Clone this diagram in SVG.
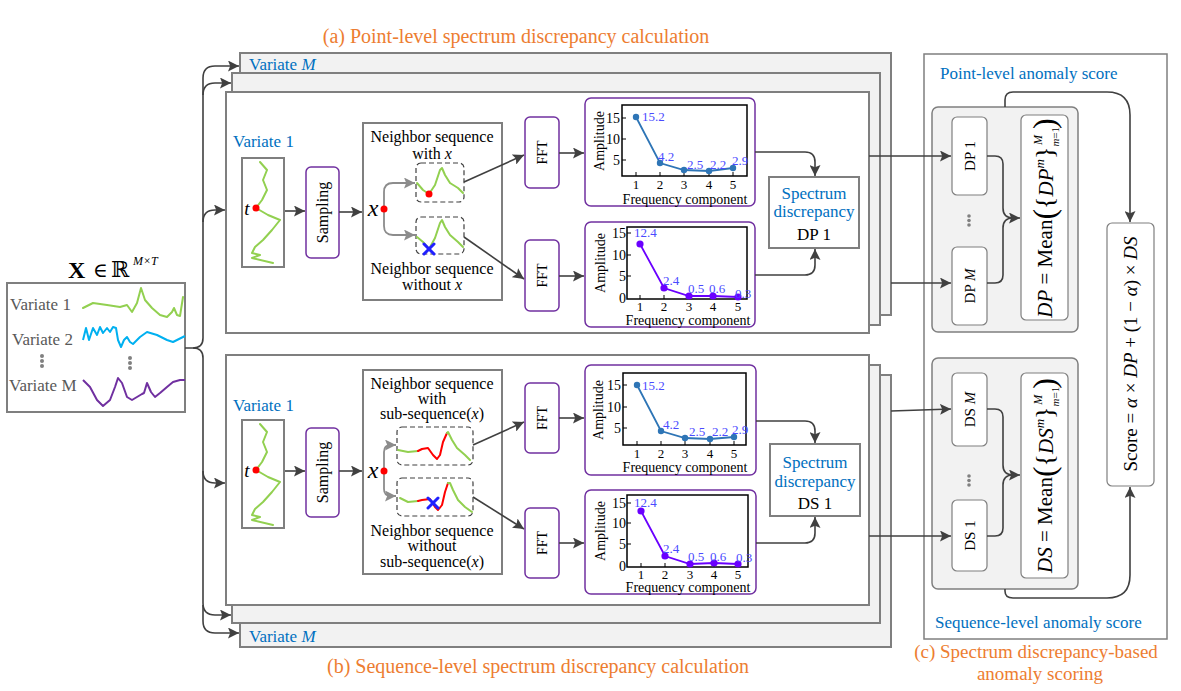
<svg xmlns="http://www.w3.org/2000/svg" width="1181" height="691" viewBox="0 0 1181 691" font-family="'Liberation Serif','DejaVu Serif',serif">
<defs>
<style>
text{font-family:"Liberation Serif","DejaVu Serif",serif;fill:#000}
.panel{fill:#fff;stroke:#7f7f7f;stroke-width:2}
.panelb{fill:#f2f2f2;stroke:#7f7f7f;stroke-width:2}
.pbox{fill:#fff;stroke:#7030a0;stroke-width:1.5}
.gbox{fill:#fff;stroke:#7f7f7f;stroke-width:2}
.conn{fill:none;stroke:#404040;stroke-width:1.6}
.gconn{fill:none;stroke:#8c8c8c;stroke-width:1.8}
.dash{fill:#fff;stroke:#404040;stroke-width:1.2;stroke-dasharray:5 3}
.blue{fill:#0070c0}
.orange{fill:#ed7d31}
.gray{fill:#595959}
.nb{font-size:16px}
.green{fill:none;stroke:#92d050;stroke-width:2;stroke-linejoin:round;stroke-linecap:round}
.red{fill:none;stroke:#ff0000;stroke-width:2;stroke-linejoin:round;stroke-linecap:round}
.plot{fill:none;stroke:#000;stroke-width:1.5}
.tick{stroke:#000;stroke-width:1}
.lb{fill:#4b4bff;font-size:13px}
.l1{fill:none;stroke:#2e75b6;stroke-width:1.8}
.l2{fill:none;stroke:#6a00ff;stroke-width:1.8}
.ax{font-size:14px}
.tk{font-size:13px}
.cross{stroke:#2020ff;stroke-width:3;stroke-linecap:round}
</style>
<marker id="ah" viewBox="0 0 10 10" refX="10" refY="5" markerWidth="11" markerHeight="11" markerUnits="userSpaceOnUse" orient="auto"><path d="M0,0 L10,5 L0,10 L2,5 z" fill="#404040"/></marker>
<marker id="ahg" viewBox="0 0 10 10" refX="10" refY="5" markerWidth="11" markerHeight="11" markerUnits="userSpaceOnUse" orient="auto"><path d="M0,0 L10,5 L0,10 L2,5 z" fill="#8c8c8c"/></marker>
</defs>
<rect width="1181" height="691" fill="#fff"/>

<!-- titles -->
<text class="orange" x="516" y="43" font-size="20" text-anchor="middle">(a) Point-level spectrum discrepancy calculation</text>
<text class="orange" x="538" y="673" font-size="20" text-anchor="middle">(b) Sequence-level spectrum discrepancy calculation</text>
<text class="orange" x="1036" y="658" font-size="19" text-anchor="middle">(c) Spectrum discrepancy-based</text>
<text class="orange" x="1040" y="680" font-size="19" text-anchor="middle">anomaly scoring</text>

<!-- input -->
<g id="input">
<text x="68" y="278" font-size="24" font-weight="bold">X</text>
<text x="93" y="277" font-size="20">∈</text>
<text x="111" y="277" font-size="22">ℝ</text>
<text x="133" y="265" font-size="12" font-style="italic">M×T</text>
<rect x="7" y="283" width="178" height="129" fill="#fff" stroke="#7f7f7f" stroke-width="2"/>
<text class="gray" x="10" y="310" font-size="17">Variate 1</text>
<text class="gray" x="12" y="345" font-size="17">Variate 2</text>
<text class="gray" x="9" y="391" font-size="17">Variate M</text>
<g fill="#808080"><circle cx="42" cy="356" r="2"/><circle cx="42" cy="361" r="2"/><circle cx="42" cy="366" r="2"/><circle cx="130" cy="358" r="2"/><circle cx="130" cy="363" r="2"/><circle cx="130" cy="368" r="2"/></g>
<polyline class="green" points="83,308 93,303 107,305 120,307 127,305 132,312 137,303 141,288 145,300 152,308 160,315 167,317 172,312 174,308 177,315 180,316 183,297"/>
<polyline fill="none" stroke="#00b0f0" stroke-width="2" stroke-linejoin="round" points="83,340 86,328 89,340 93,328 97,335 100,327 103,333 107,328 110,332 113,327 116,328 118,340 121,347 124,340 127,337 130,342 133,344 140,337 147,332 157,335 167,340 173,342 185,336"/>
<polyline fill="none" stroke="#7030a0" stroke-width="2" stroke-linejoin="round" points="83,380 90,387 97,400 103,406 110,400 115,387 118,378 122,383 127,397 132,400 137,397 142,394 144,393 147,383 151,392 155,397 160,393 167,387 173,382 180,380 185,380"/>
</g>

<!-- panel a -->
<g id="panel-a">
<rect class="panelb" x="240" y="53" width="651" height="262"/>
<rect class="panelb" x="232" y="73" width="648" height="252"/>
<rect class="panel" x="226" y="92" width="643" height="241"/>
<text class="blue" x="249" y="70" font-size="17">Variate <tspan font-style="italic">M</tspan></text>
<text class="blue" x="233" y="147" font-size="17">Variate 1</text>
</g>
<g id="series-a">
<rect class="gbox" x="242" y="158" width="42" height="109"/>
<polyline class="green" points="260,162 267,170 263,180 267,190 262,200 256,208 268,215 280,220 272,230 263,240 255,247 252,253 260,255 252,258 273,263"/>
<circle cx="256" cy="208" r="3.5" fill="#ff0000"/>
<text x="247" y="215" font-size="19" font-style="italic" text-anchor="middle">t</text>
</g>
<g id="sampling-a">
<rect class="pbox" x="306" y="167" width="33" height="91" rx="5"/>
<text transform="translate(328,212.5) rotate(-90)" font-size="16" text-anchor="middle">Sampling</text>
</g>
<g id="neighbor-a">
<rect class="gbox" x="363" y="123" width="139" height="177"/>
<text class="nb" x="432" y="142" text-anchor="middle">Neighbor sequence</text>
<text class="nb" x="432" y="159" text-anchor="middle">with <tspan font-style="italic">x</tspan></text>
<text class="nb" x="432" y="274" text-anchor="middle">Neighbor sequence</text>
<text class="nb" x="432" y="290" text-anchor="middle">without <tspan font-style="italic">x</tspan></text>
<text x="373" y="216" font-size="24" font-style="italic" text-anchor="middle">x</text>
<rect class="dash" x="416" y="163" width="48" height="39" rx="5"/>
<rect class="dash" x="416" y="217" width="48" height="37" rx="5"/>
<polyline class="green" points="417,183 423,190 429,194 435,185 440,170 442,168 445,175 450,183 458,188 463,193"/>
<circle cx="429" cy="194" r="3.5" fill="#ff0000"/>
<polyline class="green" points="417,237 423,242 429,249 435,238 440,223 442,220 445,227 450,235 458,242 463,247"/>
<line class="cross" x1="424" y1="244" x2="434" y2="254"/><line class="cross" x1="424" y1="254" x2="434" y2="244"/>
<path class="gconn" d="M384,209 V192 Q384,183 393,183 H415" marker-end="url(#ahg)"/>
<path class="gconn" d="M384,209 V226 Q384,235 393,235 H415" marker-end="url(#ahg)"/>
<circle cx="384" cy="209" r="3.5" fill="#ff0000"/>
</g>
<g id="fft-a1"><rect class="pbox" x="525" y="117" width="34" height="71" rx="5"/><text transform="translate(547,152.5) rotate(-90)" font-size="14" text-anchor="middle">FFT</text></g>
<g id="fft-a2"><rect class="pbox" x="525" y="240" width="34" height="71" rx="5"/><text transform="translate(547,275.5) rotate(-90)" font-size="14" text-anchor="middle">FFT</text></g>

<g id="chart-a1">
<rect class="pbox" x="585" y="98" width="170" height="108" rx="6"/>
<rect class="plot" x="622" y="105" width="125" height="71"/>
<path class="tick" d="M622,118h4M622,139h4M622,160h4M636,176v-4M660,176v-4M684,176v-4M709,176v-4M733,176v-4"/>
<g class="ax" text-anchor="end"><text x="620" y="123">15</text><text x="620" y="144">10</text><text x="620" y="165">5</text></g>
<g class="tk" text-anchor="middle"><text x="636" y="189">1</text><text x="660" y="189">2</text><text x="684" y="189">3</text><text x="709" y="189">4</text><text x="733" y="189">5</text></g>
<g class="ax" text-anchor="middle"><text x="685" y="204">Frequency component</text>
<text transform="translate(604,141) rotate(-90)">Amplitude</text></g>
<polyline class="l1" points="636,117 660,163 684,170 709,171 733,168"/>
<g fill="#2e75b6"><circle cx="636" cy="117" r="3.2"/><circle cx="660" cy="163" r="3.2"/><circle cx="684" cy="170" r="3.2"/><circle cx="709" cy="171" r="3.2"/><circle cx="733" cy="168" r="3.2"/></g>
<text class="lb" x="642" y="121">15.2</text><text class="lb" x="658" y="161">4.2</text><text class="lb" x="687" y="169">2.5</text><text class="lb" x="710" y="169">2.2</text><text class="lb" x="732" y="165">2.9</text>
</g>

<g id="chart-a2">
<rect class="pbox" x="585" y="222" width="170" height="105" rx="6"/>
<rect class="plot" x="627" y="227" width="120" height="72"/>
<path class="tick" d="M627,233h4M627,255h4M627,276h4M640,299v-4M664,299v-4M689,299v-4M713,299v-4M738,299v-4"/>
<g class="ax" text-anchor="end"><text x="626" y="238">15</text><text x="626" y="260">10</text><text x="626" y="281">5</text><text x="626" y="303">0</text></g>
<g class="tk" text-anchor="middle"><text x="640" y="311">1</text><text x="664" y="311">2</text><text x="689" y="311">3</text><text x="713" y="311">4</text><text x="738" y="311">5</text></g>
<g class="ax" text-anchor="middle"><text x="688" y="325">Frequency component</text>
<text transform="translate(605,263) rotate(-90)">Amplitude</text></g>
<polyline class="l2" points="640,244 664,288 689,296 713,296 738,297"/>
<g fill="#6a00ff"><circle cx="640" cy="244" r="3.6"/><circle cx="664" cy="288" r="3.6"/><circle cx="689" cy="296" r="3.6"/><circle cx="713" cy="296" r="3.6"/><circle cx="738" cy="297" r="3.6"/></g>
<text class="lb" x="634" y="237">12.4</text><text class="lb" x="663" y="285">2.4</text><text class="lb" x="688" y="293">0.5</text><text class="lb" x="709" y="293">0.6</text><text class="lb" x="735" y="298" font-size="12">0.3</text>
</g>

<g id="spectrum-dp1">
<rect class="gbox" x="769" y="177" width="90" height="71"/>
<text class="blue" x="814" y="199" font-size="17" text-anchor="middle">Spectrum</text>
<text class="blue" x="814" y="217" font-size="17" text-anchor="middle">discrepancy</text>
<text x="814" y="240" font-size="17" text-anchor="middle">DP 1</text>
</g>

<!-- panel b -->
<g id="panel-b">
<rect class="panelb" x="240" y="375" width="651" height="272"/>
<rect class="panelb" x="232" y="365" width="648" height="258"/>
<rect class="panel" x="226" y="355" width="643" height="250"/>
<text class="blue" x="249" y="642" font-size="17">Variate <tspan font-style="italic">M</tspan></text>
<text class="blue" x="233" y="411" font-size="17">Variate 1</text>
</g>
<g id="series-b">
<rect class="gbox" x="242" y="420" width="42" height="108"/>
<polyline class="green" points="260,424 267,432 263,442 267,452 262,462 256,470 268,477 280,482 272,492 263,502 255,509 252,515 260,517 252,520 273,525"/>
<circle cx="256" cy="470" r="3.5" fill="#ff0000"/>
<text x="247" y="477" font-size="19" font-style="italic" text-anchor="middle">t</text>
</g>
<g id="sampling-b">
<rect class="pbox" x="306" y="428" width="33" height="89" rx="5"/>
<text transform="translate(328,472.5) rotate(-90)" font-size="16" text-anchor="middle">Sampling</text>
</g>
<g id="neighbor-b">
<rect class="gbox" x="363" y="370" width="139" height="204"/>
<text class="nb" x="432" y="389" text-anchor="middle">Neighbor sequence</text>
<text class="nb" x="432" y="404" text-anchor="middle">with</text>
<text class="nb" x="432" y="419" text-anchor="middle">sub-sequence(<tspan font-style="italic">x</tspan>)</text>
<text class="nb" x="432" y="536" text-anchor="middle">Neighbor sequence</text>
<text class="nb" x="432" y="551" text-anchor="middle">without</text>
<text class="nb" x="432" y="567" text-anchor="middle">sub-sequence(<tspan font-style="italic">x</tspan>)</text>
<text x="373" y="478" font-size="24" font-style="italic" text-anchor="middle">x</text>
<rect class="dash" x="397" y="427" width="76" height="38" rx="5"/>
<rect class="dash" x="397" y="478" width="76" height="38" rx="5"/>
<polyline class="green" points="398,450 408,452 418,451"/>
<polyline class="red" points="418,451 422,449 428,448 433,455 437,459 440,455 443,442 447,433"/>
<polyline class="green" points="447,433 448,432 452,440 457,448 465,455 470,460"/>
<polyline class="green" points="400,498 408,502 418,501"/>
<polyline class="red" points="418,501 422,500 430,499 435,507 438,510 442,505 445,492 448,483"/>
<polyline class="green" points="448,483 450,483 453,490 458,500 465,507 472,512"/>
<line class="cross" x1="428" y1="498" x2="438" y2="508"/><line class="cross" x1="428" y1="508" x2="438" y2="498"/>
<path class="gconn" d="M384,471 V452 Q384,445 391,445 H396" marker-end="url(#ahg)"/>
<path class="gconn" d="M384,471 V489 Q384,496 391,496 H396" marker-end="url(#ahg)"/>
<circle cx="384" cy="471" r="3.5" fill="#ff0000"/>
</g>
<g id="fft-b1"><rect class="pbox" x="525" y="383" width="34" height="70" rx="5"/><text transform="translate(547,418) rotate(-90)" font-size="14" text-anchor="middle">FFT</text></g>
<g id="fft-b2"><rect class="pbox" x="525" y="508" width="34" height="70" rx="5"/><text transform="translate(547,543) rotate(-90)" font-size="14" text-anchor="middle">FFT</text></g>

<g id="chart-b1">
<rect class="pbox" x="585" y="365" width="171" height="110" rx="6"/>
<rect class="plot" x="623" y="373" width="123" height="72"/>
<path class="tick" d="M623,385h4M623,407h4M623,428h4M637,445v-4M661,445v-4M685,445v-4M710,445v-4M734,445v-4"/>
<g class="ax" text-anchor="end"><text x="621" y="390">15</text><text x="621" y="412">10</text><text x="621" y="433">5</text></g>
<g class="tk" text-anchor="middle"><text x="637" y="458">1</text><text x="661" y="458">2</text><text x="685" y="458">3</text><text x="710" y="458">4</text><text x="734" y="458">5</text></g>
<g class="ax" text-anchor="middle"><text x="685" y="472">Frequency component</text>
<text transform="translate(603,410) rotate(-90)">Amplitude</text></g>
<polyline class="l1" points="637,385 661,431 685,438 710,439 734,437"/>
<g fill="#2e75b6"><circle cx="637" cy="385" r="3.2"/><circle cx="661" cy="431" r="3.2"/><circle cx="685" cy="438" r="3.2"/><circle cx="710" cy="439" r="3.2"/><circle cx="734" cy="437" r="3.2"/></g>
<text class="lb" x="642" y="390">15.2</text><text class="lb" x="663" y="429">4.2</text><text class="lb" x="689" y="436">2.5</text><text class="lb" x="712" y="436">2.2</text><text class="lb" x="732" y="434">2.9</text>
</g>

<g id="chart-b2">
<rect class="pbox" x="585" y="490" width="171" height="104" rx="6"/>
<rect class="plot" x="627" y="495" width="121" height="72"/>
<path class="tick" d="M627,503h4M627,523h4M627,544h4M641,567v-4M665,567v-4M690,567v-4M714,567v-4M738,567v-4"/>
<g class="ax" text-anchor="end"><text x="626" y="508">15</text><text x="626" y="528">10</text><text x="626" y="549">5</text><text x="626" y="571">0</text></g>
<g class="tk" text-anchor="middle"><text x="641" y="579">1</text><text x="665" y="579">2</text><text x="690" y="579">3</text><text x="714" y="579">4</text><text x="738" y="579">5</text></g>
<g class="ax" text-anchor="middle"><text x="688" y="592">Frequency component</text>
<text transform="translate(605,531) rotate(-90)">Amplitude</text></g>
<polyline class="l2" points="641,511 665,556 690,564 714,563 738,564"/>
<g fill="#6a00ff"><circle cx="641" cy="511" r="3.6"/><circle cx="665" cy="556" r="3.6"/><circle cx="690" cy="564" r="3.6"/><circle cx="714" cy="563" r="3.6"/><circle cx="738" cy="564" r="3.6"/></g>
<text class="lb" x="634" y="507">12.4</text><text class="lb" x="663" y="553">2.4</text><text class="lb" x="688" y="561">0.5</text><text class="lb" x="710" y="561">0.6</text><text class="lb" x="736" y="562" font-size="12">0.3</text>
</g>

<g id="spectrum-ds1">
<rect class="gbox" x="770" y="444" width="90" height="72"/>
<text class="blue" x="815" y="468" font-size="17" text-anchor="middle">Spectrum</text>
<text class="blue" x="815" y="487" font-size="17" text-anchor="middle">discrepancy</text>
<text x="815" y="509" font-size="17" text-anchor="middle">DS 1</text>
</g>

<!-- panel c -->
<g id="panel-c">
<rect x="924" y="54" width="243" height="585" fill="#fff" stroke="#7f7f7f" stroke-width="1.5"/>
<text class="blue" x="940" y="79" font-size="17">Point-level anomaly score</text>
<text class="blue" x="935" y="628" font-size="17">Sequence-level anomaly score</text>
</g>
<g id="dp-group">
<rect x="932" y="107" width="146" height="225" rx="6" fill="#f2f2f2" stroke="#7f7f7f" stroke-width="1.5"/>
<rect x="952" y="117" width="35" height="78" rx="5" fill="#fff" stroke="#7f7f7f" stroke-width="1.2"/>
<text transform="translate(975,156) rotate(-90)" font-size="15" text-anchor="middle">DP 1</text>
<rect x="952" y="247" width="35" height="78" rx="5" fill="#fff" stroke="#7f7f7f" stroke-width="1.2"/>
<text transform="translate(975,286) rotate(-90)" font-size="15" text-anchor="middle">DP <tspan font-style="italic">M</tspan></text>
<g fill="#808080"><circle cx="969" cy="216" r="1.8"/><circle cx="969" cy="220.5" r="1.8"/><circle cx="969" cy="225" r="1.8"/></g>
<rect x="1021" y="115" width="47" height="205" rx="5" fill="#fff" stroke="#7f7f7f" stroke-width="1.2"/>
<text transform="translate(1052,218) rotate(-90)" font-size="21" text-anchor="middle"><tspan font-style="italic">DP</tspan> = Mean<tspan font-size="32" dy="3">(</tspan><tspan font-size="26" dy="-2">{</tspan><tspan font-style="italic">DP</tspan><tspan font-size="13" font-style="italic" dy="-9">m</tspan><tspan font-size="26" dy="9">}</tspan><tspan font-size="11" dy="6"><tspan font-style="italic">m</tspan>=1</tspan><tspan font-size="12" font-style="italic" dx="-18" dy="-17">M</tspan><tspan font-size="32" dx="6" dy="13">)</tspan></text>
</g>
<g id="ds-group">
<rect x="932" y="358" width="146" height="231" rx="6" fill="#f2f2f2" stroke="#7f7f7f" stroke-width="1.5"/>
<rect x="952" y="373" width="35" height="73" rx="5" fill="#fff" stroke="#7f7f7f" stroke-width="1.2"/>
<text transform="translate(975,409.5) rotate(-90)" font-size="15" text-anchor="middle">DS <tspan font-style="italic">M</tspan></text>
<rect x="952" y="500" width="35" height="71" rx="5" fill="#fff" stroke="#7f7f7f" stroke-width="1.2"/>
<text transform="translate(975,535.5) rotate(-90)" font-size="15" text-anchor="middle">DS 1</text>
<g fill="#808080"><circle cx="969" cy="476" r="1.8"/><circle cx="969" cy="480.5" r="1.8"/><circle cx="969" cy="485" r="1.8"/></g>
<rect x="1021" y="373" width="47" height="205" rx="5" fill="#fff" stroke="#7f7f7f" stroke-width="1.2"/>
<text transform="translate(1052,475.5) rotate(-90)" font-size="21" text-anchor="middle"><tspan font-style="italic">DS</tspan> = Mean<tspan font-size="32" dy="3">(</tspan><tspan font-size="26" dy="-2">{</tspan><tspan font-style="italic">DS</tspan><tspan font-size="13" font-style="italic" dy="-9">m</tspan><tspan font-size="26" dy="9">}</tspan><tspan font-size="11" dy="6"><tspan font-style="italic">m</tspan>=1</tspan><tspan font-size="12" font-style="italic" dx="-18" dy="-17">M</tspan><tspan font-size="32" dx="6" dy="13">)</tspan></text>
</g>
<g id="score">
<rect x="1107" y="223" width="47" height="263" rx="5" fill="#fff" stroke="#7f7f7f" stroke-width="1.2"/>
<text transform="translate(1137,354) rotate(-90)" font-size="19" text-anchor="middle">Score = <tspan font-style="italic">α</tspan> × <tspan font-style="italic">DP</tspan> + (1 − <tspan font-style="italic">α</tspan>) × <tspan font-style="italic">DS</tspan></text>
</g>

<!-- connectors -->
<g id="connectors">
<path class="conn" d="M185,348 H193 Q203,348 203,338 V78 Q203,66 215,66 H239" marker-end="url(#ah)"/>
<path class="conn" d="M203,95 Q203,83 215,83 H231" marker-end="url(#ah)"/>
<path class="conn" d="M203,222 Q203,210 215,210 H225" marker-end="url(#ah)"/>
<path class="conn" d="M193,348 Q203,348 203,358 V603 Q203,615 215,615 H231" marker-end="url(#ah)"/>
<path class="conn" d="M203,605 V621 Q203,633 215,633 H239" marker-end="url(#ah)"/>
<path class="conn" d="M203,471 Q203,483 215,483 H225" marker-end="url(#ah)"/>
<path class="conn" d="M285,211 H305" marker-end="url(#ah)"/>
<path class="conn" d="M339,212 H362" marker-end="url(#ah)"/>
<path class="conn" d="M464,182 L524,155" marker-end="url(#ah)"/>
<path class="conn" d="M464,237 L524,279" marker-end="url(#ah)"/>
<path class="conn" d="M559,153 H584" marker-end="url(#ah)"/>
<path class="conn" d="M559,276 H584" marker-end="url(#ah)"/>
<path class="conn" d="M755,152 H805 Q815,152 815,162 V176" marker-end="url(#ah)"/>
<path class="conn" d="M755,275 H805 Q815,275 815,265 V249" marker-end="url(#ah)"/>
<path class="conn" d="M285,471 H305" marker-end="url(#ah)"/>
<path class="conn" d="M339,471 H362" marker-end="url(#ah)"/>
<path class="conn" d="M473,445 L524,422" marker-end="url(#ah)"/>
<path class="conn" d="M473,497 L524,529" marker-end="url(#ah)"/>
<path class="conn" d="M559,418 H584" marker-end="url(#ah)"/>
<path class="conn" d="M559,543 H584" marker-end="url(#ah)"/>
<path class="conn" d="M756,421 H805 Q815,421 815,431 V443" marker-end="url(#ah)"/>
<path class="conn" d="M756,543 H805 Q815,543 815,533 V517" marker-end="url(#ah)"/>
<path class="conn" d="M869,156 H951" marker-end="url(#ah)"/>
<path class="conn" d="M891,283 H951" marker-end="url(#ah)"/>
<path class="conn" d="M891,411 L951,409" marker-end="url(#ah)"/>
<path class="conn" d="M869,536 H951" marker-end="url(#ah)"/>
<path class="conn" d="M987,156 H995 Q1003,156 1003,164 V208 Q1003,218 1013,218 H1020" marker-end="url(#ah)"/>
<path class="conn" d="M987,283 H995 Q1003,283 1003,275 V228 Q1003,218 1013,218"/>
<path class="conn" d="M987,409 H995 Q1003,409 1003,417 V465 Q1003,475 1013,475 H1020" marker-end="url(#ah)"/>
<path class="conn" d="M987,536 H995 Q1003,536 1003,528 V485 Q1003,475 1013,475"/>
<path class="conn" d="M1005,107 V100 Q1005,92 1013,92 H1107 Q1130,92 1130,115 V222" marker-end="url(#ah)"/>
<path class="conn" d="M1005,589 V591 Q1005,598 1013,598 H1107 Q1130,598 1130,575 V487" marker-end="url(#ah)"/>
</g>
</svg>
